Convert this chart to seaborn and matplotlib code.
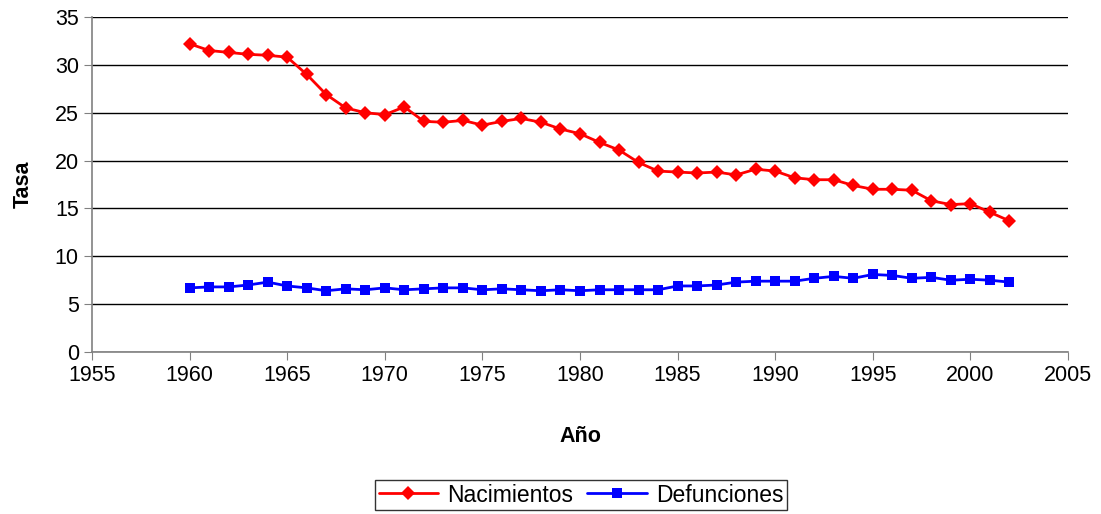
import numpy as np
import pandas as pd
import matplotlib
matplotlib.use("Agg")
import matplotlib.pyplot as plt
import seaborn as sns

# Data
years = list(range(1960, 2003))
nacimientos = [32.2, 31.5, 31.3, 31.1, 31.0, 30.8, 29.0, 26.9, 25.5, 25.0,
               24.8, 25.6, 24.1, 24.0, 24.2, 23.7, 24.1, 24.4, 24.0, 23.3,
               22.8, 21.9, 21.1, 19.8, 18.9, 18.8, 18.7, 18.8, 18.5, 19.1,
               18.9, 18.2, 18.0, 18.0, 17.4, 17.0, 17.0, 16.9, 15.8, 15.4,
               15.5, 14.6, 13.7]
defunciones = [6.7, 6.8, 6.8, 7.0, 7.3, 6.9, 6.7, 6.4, 6.6, 6.5,
               6.7, 6.5, 6.6, 6.7, 6.7, 6.5, 6.6, 6.5, 6.4, 6.5,
               6.4, 6.5, 6.5, 6.5, 6.5, 6.9, 6.9, 7.0, 7.3, 7.4,
               7.4, 7.4, 7.7, 7.9, 7.7, 8.1, 8.0, 7.7, 7.8, 7.5,
               7.6, 7.5, 7.3]

df = pd.DataFrame({"Año": years, "Nacimientos": nacimientos, "Defunciones": defunciones})
long = df.melt(id_vars="Año", var_name="Serie", value_name="Tasa")

sns.set_style("white")
plt.rcParams['font.family'] = ['Liberation Sans', 'DejaVu Sans']
plt.rcParams['text.color'] = 'black'
plt.rcParams['axes.labelcolor'] = 'black'
plt.rcParams['xtick.color'] = 'black'
plt.rcParams['ytick.color'] = 'black'

fig = plt.figure(figsize=(11.01, 5.14), dpi=100)
ax = fig.add_axes([92 / 1101, 1 - 352 / 514, (1068 - 92) / 1101, (352 - 17) / 514])

sns.lineplot(data=long, x="Año", y="Tasa", hue="Serie", style="Serie",
             palette={"Nacimientos": "#ff0000", "Defunciones": "#0000ff"},
             markers={"Nacimientos": "D", "Defunciones": "s"},
             dashes=False, markersize=7, linewidth=2, markeredgewidth=0,
             ax=ax, legend=False)

ax.set_xlim(1955, 2005)
ax.set_ylim(0, 35)
ax.set_xticks(range(1955, 2006, 5))
ax.set_yticks(range(0, 36, 5))
ax.yaxis.grid(True, color="black", linewidth=1)
ax.set_axisbelow(True)
for s in ["top", "right"]:
    ax.spines[s].set_visible(False)
for s in ["left", "bottom"]:
    ax.spines[s].set_color("#808080")
    ax.spines[s].set_linewidth(1.2)
ax.tick_params(axis="both", direction="out", length=6, color="#808080",
               labelsize=15.5, labelcolor="black", left=True, bottom=True)
ax.set_xlabel("Año", fontsize=15.5, fontweight="bold", labelpad=29)
ax.set_ylabel("Tasa", fontsize=15.5, fontweight="bold", labelpad=15)

handles = [plt.Line2D([], [], color="#ff0000", marker="D", markersize=7, linewidth=2, markeredgewidth=0),
           plt.Line2D([], [], color="#0000ff", marker="s", markersize=7, linewidth=2, markeredgewidth=0)]
leg = fig.legend(handles, ["Nacimientos", "Defunciones"], loc="center",
                 bbox_to_anchor=(581 / 1101, 1 - 495 / 514), ncol=2,
                 fontsize=16.5, frameon=True, fancybox=False, handlelength=2.6,
                 columnspacing=0.6, handletextpad=0.4, borderpad=0.15,
                 borderaxespad=0)
leg.get_frame().set_edgecolor("black")
leg.get_frame().set_linewidth(1)

fig.savefig("out.png", dpi=100)
